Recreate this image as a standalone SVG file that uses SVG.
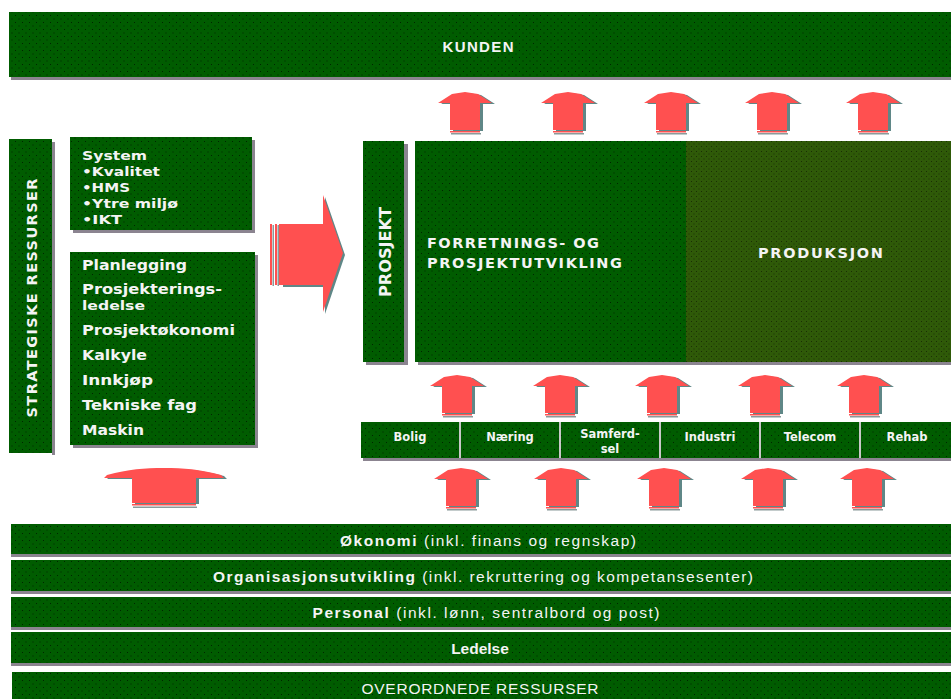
<svg xmlns="http://www.w3.org/2000/svg" xmlns:xlink="http://www.w3.org/1999/xlink" width="951" height="699" viewBox="0 0 951 699">
  <defs>
    <!-- stippled green fills -->
    <pattern id="green" width="7" height="7" patternUnits="userSpaceOnUse">
      <rect width="7" height="7" fill="#005c00"/>
      <rect x="1" y="1" width="1" height="1" fill="#002400"/>
      <rect x="4.5" y="4.5" width="1" height="1" fill="#002400"/>
    </pattern>
    <pattern id="olive" width="5" height="5" patternUnits="userSpaceOnUse">
      <rect width="5" height="5" fill="#2f5a08"/>
      <rect x="1" y="1" width="1" height="1" fill="#1a2e04"/>
      <rect x="3.5" y="3.5" width="1" height="1" fill="#1a2e04"/>
    </pattern>

    <!-- small upward arrow, origin at top centre of the head -->
    <path id="upShape" d="M-15,38 V11 H-27 L-13,2 L0,0 L13,2 L27,11 H15 V38 Z"/>
    <g id="up">
      <use xlink:href="#upShape" fill="#5f8787" transform="translate(3,1)"/>
      <use xlink:href="#upShape" fill="#ff5050"/>
      <rect x="-15" y="39" width="30" height="1.5" fill="#ff5050"/>
      <rect x="-14" y="41" width="30" height="1.5" fill="#8a9a9a"/>
    </g>
  </defs>
  <style>
    .box { fill: url(#green); }
    .shadow { fill: #8b8490; }
    .lbl { fill: #f4f4f4; font-family: "DejaVu Sans", Verdana, sans-serif; font-weight: bold; }
    .band { fill: #f4f4f4; font-family: "Liberation Sans", Arial, sans-serif; font-size: 15.5px; text-anchor: middle; }
    .cat { fill: #f4f4f4; font-family: "DejaVu Sans", Verdana, sans-serif; font-weight: bold; font-size: 11.5px; text-anchor: middle; }
  </style>

  <rect width="951" height="699" fill="#ffffff"/>

  <!-- customer band -->
  <g id="kunden">
    <rect class="shadow" x="11" y="77" width="940" height="3"/>
    <rect class="box" x="9" y="12" width="942" height="65"/>
    <text x="478" y="52" fill="#f4f4f4" font-family="Liberation Sans, Arial, sans-serif" font-weight="bold" font-size="15" text-anchor="middle" textLength="71" lengthAdjust="spacing">KUNDEN</text>
  </g>

  <!-- strategic resources column -->
  <g id="strategiske">
    <rect class="shadow" x="52" y="142" width="3" height="313"/>
    <rect class="box" x="9" y="139" width="43" height="314"/>
    <text class="lbl" font-size="14.5" text-anchor="middle" transform="translate(37,298) rotate(-90)" textLength="239" lengthAdjust="spacing">STRATEGISKE RESSURSER</text>
  </g>

  <g id="system">
    <rect class="shadow" x="73" y="230" width="182" height="3"/>
    <rect class="shadow" x="252" y="140" width="3" height="93"/>
    <rect class="box" x="70" y="137" width="182" height="93"/>
    <text class="lbl" font-size="13">
      <tspan x="82" y="160" textLength="65" lengthAdjust="spacingAndGlyphs">System</tspan>
      <tspan x="82" y="176" textLength="78" lengthAdjust="spacingAndGlyphs">•Kvalitet</tspan>
      <tspan x="82" y="192" textLength="48" lengthAdjust="spacingAndGlyphs">•HMS</tspan>
      <tspan x="82" y="208" textLength="96" lengthAdjust="spacingAndGlyphs">•Ytre miljø</tspan>
      <tspan x="82" y="224" textLength="40" lengthAdjust="spacingAndGlyphs">•IKT</tspan>
    </text>
  </g>

  <g id="fag">
    <rect class="shadow" x="73" y="445" width="185" height="3"/>
    <rect class="shadow" x="255" y="255" width="3" height="193"/>
    <rect class="box" x="70" y="252" width="185" height="193"/>
    <text class="lbl" font-size="14">
      <tspan x="82" y="270" textLength="105" lengthAdjust="spacingAndGlyphs">Planlegging</tspan>
      <tspan x="82" y="294" textLength="140" lengthAdjust="spacingAndGlyphs">Prosjekterings-</tspan>
      <tspan x="82" y="310" font-size="13" textLength="63" lengthAdjust="spacingAndGlyphs">ledelse</tspan>
      <tspan x="82" y="335" textLength="153" lengthAdjust="spacingAndGlyphs">Prosjektøkonomi</tspan>
      <tspan x="82" y="360" textLength="65" lengthAdjust="spacingAndGlyphs">Kalkyle</tspan>
      <tspan x="82" y="385" textLength="71" lengthAdjust="spacingAndGlyphs">Innkjøp</tspan>
      <tspan x="82" y="410" textLength="115" lengthAdjust="spacingAndGlyphs">Tekniske fag</tspan>
      <tspan x="82" y="435" textLength="62" lengthAdjust="spacingAndGlyphs">Maskin</tspan>
    </text>
  </g>

  <!-- project column -->
  <g id="prosjekt">
    <rect class="shadow" x="404" y="144" width="4" height="221"/>
    <rect class="shadow" x="366" y="362" width="42" height="3"/>
    <rect class="box" x="363" y="141" width="41" height="221"/>
    <text class="lbl" font-size="16" text-anchor="middle" transform="translate(391,252) rotate(-90)" textLength="90" lengthAdjust="spacingAndGlyphs">PROSJEKT</text>
  </g>

  <g id="forretning">
    <rect class="shadow" x="418" y="362" width="533" height="3"/>
    <rect class="box" x="415" y="141" width="271" height="221"/>
    <text class="lbl" font-size="14.5">
      <tspan x="427" y="248" textLength="172" lengthAdjust="spacing">FORRETNINGS- OG</tspan>
      <tspan x="427" y="268" textLength="195" lengthAdjust="spacing">PROSJEKTUTVIKLING</tspan>
    </text>
  </g>

  <g id="produksjon">
    <rect x="686" y="141" width="265" height="221" fill="url(#olive)"/>
    <text class="lbl" font-size="14.5" x="758" y="258" textLength="125" lengthAdjust="spacing">PRODUKSJON</text>
  </g>

  <!-- business areas -->
  <g id="omraader">
    <rect class="shadow" x="363" y="458" width="588" height="3"/>
    <rect class="box" x="361" y="422" width="98" height="36"/>
    <rect class="box" x="461" y="422" width="98" height="36"/>
    <rect class="box" x="561" y="422" width="98" height="36"/>
    <rect class="box" x="661" y="422" width="98" height="36"/>
    <rect class="box" x="761" y="422" width="98" height="36"/>
    <rect class="box" x="861" y="422" width="90" height="36"/>
    <g fill="#c8c8c8">
      <rect x="459" y="422" width="2" height="36"/>
      <rect x="559" y="422" width="2" height="36"/>
      <rect x="659" y="422" width="2" height="36"/>
      <rect x="759" y="422" width="2" height="36"/>
      <rect x="859" y="422" width="2" height="36"/>
    </g>
    <text class="cat" x="410" y="441">Bolig</text>
    <text class="cat" x="510" y="441">Næring</text>
    <text class="cat" x="610" y="438">Samferd-</text>
    <text class="cat" x="610" y="453">sel</text>
    <text class="cat" x="710" y="441">Industri</text>
    <text class="cat" x="810" y="441">Telecom</text>
    <text class="cat" x="907" y="441">Rehab</text>
  </g>

  <!-- connectors: upward and sideways arrows -->
  <g id="connectors">
    <use xlink:href="#up" x="465" y="92"/>
    <use xlink:href="#up" x="568" y="92"/>
    <use xlink:href="#up" x="671" y="92"/>
    <use xlink:href="#up" x="772" y="92"/>
    <use xlink:href="#up" x="873" y="92"/>

    <use xlink:href="#up" x="457" y="375"/>
    <use xlink:href="#up" x="560" y="375"/>
    <use xlink:href="#up" x="662" y="375"/>
    <use xlink:href="#up" x="765" y="375"/>
    <use xlink:href="#up" x="864" y="375"/>

    <use xlink:href="#up" x="461" y="468"/>
    <use xlink:href="#up" x="561" y="468"/>
    <use xlink:href="#up" x="664" y="468"/>
    <use xlink:href="#up" x="768" y="468"/>
    <use xlink:href="#up" x="867" y="468"/>

    <!-- wide arrow from the shared resources -->
    <g transform="translate(164,468)">
      <path d="M-32,35 V10 H-60 L-57,7 C-35,1 -20,0 0,0 C20,0 35,1 57,7 L60,10 H32 V35 Z" fill="#5f8787" transform="translate(3,1)"/>
      <path d="M-32,35 V10 H-60 L-57,7 C-35,1 -20,0 0,0 C20,0 35,1 57,7 L60,10 H32 V35 Z" fill="#ff5050"/>
      <rect x="-32" y="36" width="64" height="1.5" fill="#ff5050"/>
      <rect x="-31" y="38.5" width="64" height="1.5" fill="#8a9a9a"/>
    </g>

    <!-- arrow from strategic resources to the project -->
    <path d="M281,224 H323 V195 L343,253 L323,312 V285 H281 Z" fill="#5f8787" transform="translate(2,2)"/>
    <path d="M281,224 H323 V195 L343,253 L323,312 V285 H281 Z" fill="#ff5050"/>
    <rect x="270" y="224" width="2" height="61" fill="#ff5050"/>
    <rect x="272.5" y="225" width="1.5" height="61" fill="#8a9a9a"/>
    <rect x="275" y="224" width="2" height="61" fill="#ff5050"/>
    <rect x="277.5" y="225" width="1.5" height="61" fill="#8a9a9a"/>
    <rect x="279" y="224" width="2" height="61" fill="#ff5050"/>
  </g>

  <!-- shared resource bands -->
  <g id="okonomi">
    <rect class="shadow" x="11" y="554" width="940" height="3"/>
    <rect class="box" x="11" y="524" width="940" height="30"/>
    <text class="band" x="488" y="546" textLength="296" lengthAdjust="spacing"><tspan font-weight="bold">Økonomi</tspan> (inkl. finans og regnskap)</text>
  </g>
  <g id="organisasjon">
    <rect class="shadow" x="11" y="591" width="940" height="3"/>
    <rect class="box" x="11" y="560" width="940" height="31"/>
    <text class="band" x="483" y="582" textLength="540" lengthAdjust="spacing"><tspan font-weight="bold">Organisasjonsutvikling</tspan> (inkl. rekruttering og kompetansesenter)</text>
  </g>
  <g id="personal">
    <rect class="shadow" x="11" y="627" width="940" height="3"/>
    <rect class="box" x="11" y="597" width="940" height="30"/>
    <text class="band" x="486" y="618" textLength="347" lengthAdjust="spacing"><tspan font-weight="bold">Personal</tspan> (inkl. lønn, sentralbord og post)</text>
  </g>
  <g id="ledelse">
    <rect class="shadow" x="11" y="663" width="940" height="3"/>
    <rect class="box" x="11" y="632" width="940" height="31"/>
    <text class="band" x="480" y="654" font-weight="bold">Ledelse</text>
  </g>
  <g id="overordnede">
    <rect class="box" x="12" y="672" width="939" height="27"/>
    <text class="band" x="480" y="694" textLength="237" lengthAdjust="spacing">OVERORDNEDE RESSURSER</text>
  </g>
</svg>
